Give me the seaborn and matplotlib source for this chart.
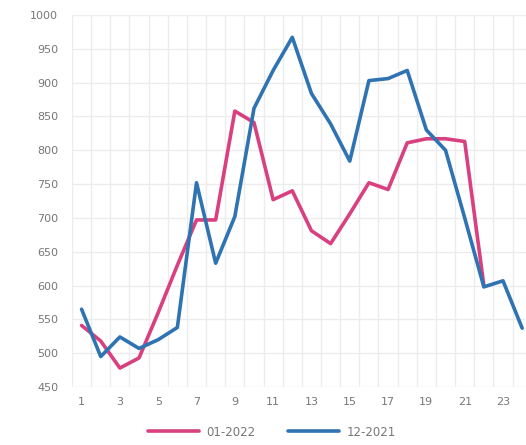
import matplotlib
matplotlib.use("Agg")
import matplotlib.pyplot as plt
import seaborn as sns
import pandas as pd
import numpy as np
from matplotlib.ticker import FixedLocator

# Daily values for two months
days_jan = list(range(1, 23))
jan_2022 = [541, 518, 478, 493, 560, 630, 697, 697, 858, 841, 727, 740,
            681, 662, 706, 752, 742, 811, 817, 817, 813, 600]

days_dec = list(range(1, 25))
dec_2021 = [565, 495, 524, 507, 520, 538, 752, 633, 702, 862, 918, 967,
            884, 839, 784, 903, 906, 918, 830, 800, 700, 598, 607, 537]

series_names = ["01-2022", "12-2021"]
colors = ["#d8407f", "#2f73b3"]
x_ticks = list(range(1, 24, 2))
y_ticks = list(range(450, 1001, 50))

df = pd.concat([
    pd.DataFrame({"day": days_jan, "value": jan_2022, "series": series_names[0]}),
    pd.DataFrame({"day": days_dec, "value": dec_2021, "series": series_names[1]}),
], ignore_index=True)

sns.set_theme(style="white")
plt.rcParams["font.family"] = ["DejaVu Sans"]

fig = plt.figure(figsize=(5.26, 4.45), dpi=100)
ax = fig.add_axes([72 / 526, 1 - 387 / 445, (526 - 72) / 526, (387 - 15) / 445])

sns.lineplot(data=df, x="day", y="value", hue="series", hue_order=series_names,
             palette=colors, linewidth=2.6, ax=ax, legend=True)

ax.set_xlim(0.5, 24.2)
ax.set_ylim(450, 1000)
ax.set_xticks(x_ticks)
ax.set_yticks(y_ticks)
ax.xaxis.set_minor_locator(FixedLocator(np.arange(0.5, 24.6, 1.0)))
ax.grid(False)
ax.grid(axis="x", which="minor", color="#ececec", linewidth=1.0)
ax.grid(axis="y", which="major", color="#ececec", linewidth=1.0)
ax.set_axisbelow(True)
for s in ax.spines.values():
    s.set_visible(False)
ax.tick_params(axis="both", which="both", length=0, labelsize=8, labelcolor="#777777")
ax.tick_params(axis="y", pad=10)
ax.tick_params(axis="x", pad=7)
ax.set_xlabel("")
ax.set_ylabel("")

handles, labels = ax.get_legend_handles_labels()
ax.get_legend().remove()
fig.legend(handles, labels, loc="center", bbox_to_anchor=(0.517, 0.029),
           ncol=2, frameon=False, fontsize=8.5, labelcolor="#777777",
           handlelength=4.3, handletextpad=0.6, columnspacing=2.8)

fig.savefig("out.png", dpi=100, facecolor="white")
